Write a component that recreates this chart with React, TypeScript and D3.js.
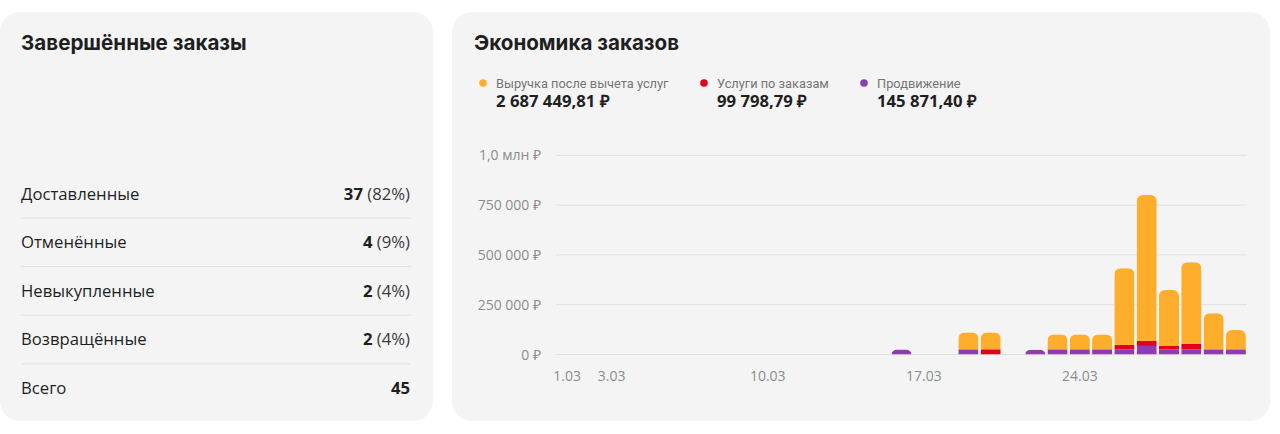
import React from "react";
import * as d3 from "d3";

// ---- Data ----
const statusLabels = ["Доставленные", "Отменённые", "Невыкупленные", "Возвращённые", "Всего"];
const statusCounts = [37, 4, 2, 2, 45];
const statusShares = ["(82%)", "(9%)", "(4%)", "(4%)", ""];

const legendNames = ["Выручка после вычета услуг", "Услуги по заказам", "Продвижение"];
const legendTotals = ["2 687 449,81 ₽", "99 798,79 ₽", "145 871,40 ₽"];

const days = [
  "1.03", "2.03", "3.03", "4.03", "5.03", "6.03", "7.03", "8.03", "9.03", "10.03",
  "11.03", "12.03", "13.03", "14.03", "15.03", "16.03", "17.03", "18.03", "19.03", "20.03",
  "21.03", "22.03", "23.03", "24.03", "25.03", "26.03", "27.03", "28.03", "29.03", "30.03", "31.03",
];
// Выручка после вычета услуг (orange)
const revenue = [
  0, 0, 0, 0, 0, 0, 0, 0, 0, 0,
  0, 0, 0, 0, 0, 0, 0, 0, 85000, 85000,
  0, 0, 75000, 75000, 75000, 385000, 733000, 281000, 410000, 181000, 97000,
];
// Услуги по заказам (red)
const services = [
  0, 0, 0, 0, 0, 0, 0, 0, 0, 0,
  0, 0, 0, 0, 0, 0, 0, 0, 0, 26000,
  0, 0, 0, 0, 0, 22000, 25000, 17000, 27000, 0, 0,
];
// Продвижение (purple)
const promotion = [
  0, 0, 0, 0, 0, 0, 0, 0, 0, 0,
  0, 0, 0, 0, 0, 25000, 0, 0, 26000, 0,
  0, 24000, 26000, 26000, 26000, 26000, 43000, 26000, 26000, 26000, 26000,
];

const yTicks = [0, 250000, 500000, 750000, 1000000];
const yTickLabels = ["0 ₽", "250 000 ₽", "500 000 ₽", "750 000 ₽", "1,0 млн ₽"];
const xTickLabels = ["1.03", "3.03", "10.03", "17.03", "24.03"];

// ---- Styles ----
const COLORS = { revenue: "#FFAE2B", services: "#E2001A", promotion: "#8E3CB3" };
const PANEL_BG = "#F4F4F4";
const TEXT = "#1F1F1F";
const MUTED = "#8C8C8C";
const FONT = "'Open Sans', sans-serif";
const TITLE_FONT = "Inter, sans-serif";

function roundedTop(x0: number, x1: number, yTop: number, yBase: number, r: number) {
  const w = x1 - x0;
  const h = yBase - yTop;
  const rx = Math.min(r, w / 2);
  const ry = Math.min(r, h);
  return `M${x0},${yBase}L${x0},${yTop + ry}A${rx},${ry} 0 0 1 ${x0 + rx},${yTop}L${x1 - rx},${yTop}A${rx},${ry} 0 0 1 ${x1},${yTop + ry}L${x1},${yBase}Z`;
}

export default function App() {
  const W = 1280;
  const H = 434;

  const x = d3.scaleBand<string>().domain(days).range([556, 1247]).paddingInner(0.1).paddingOuter(0.05);
  const y = d3.scaleLinear().domain([0, 1000000]).range([354.5, 155.3]);

  const rows = days.map((d, i) => ({
    day: d,
    promotion: promotion[i],
    services: services[i],
    revenue: revenue[i],
  }));
  const keys = ["promotion", "services", "revenue"];
  const stack = d3.stack<any>().keys(keys)(rows);

  const legendX = [483, 704, 864];
  const rowY = d3.scaleLinear().domain([0, 4]).range([199.5, 394]);

  return (
    <svg width={W} height={H} style={{ position: "absolute", left: 0, top: 0, display: "block" }}>
      <rect x={0} y={0} width={W} height={H} fill="#ffffff" />
      {/* Left panel */}
      <rect x={0} y={12} width={433} height={409} rx={20} fill={PANEL_BG} />
      <text x={21} y={50} fontFamily={TITLE_FONT} fontWeight={700} fontSize={20.6} fill={TEXT}>
        Завершённые заказы
      </text>
      {statusLabels.map((lab, i) => (
        <g key={lab}>
          <text x={21} y={rowY(i)} fontFamily={FONT} fontSize={16.7} fill={TEXT}>
            {lab}
          </text>
          <text x={410} y={rowY(i)} textAnchor="end" fontFamily={FONT} fontSize={16.7} fill={TEXT}>
            <tspan fontWeight={700}>{statusCounts[i]}</tspan>
            {statusShares[i] ? <tspan fill="#3a3a3a">{" " + statusShares[i]}</tspan> : null}
          </text>
          {i < statusLabels.length - 1 && (
            <line x1={21} x2={411} y1={rowY(i) + 18.5} y2={rowY(i) + 18.5} stroke="#E2E2E2" strokeWidth={1} />
          )}
        </g>
      ))}

      {/* Right panel */}
      <rect x={452} y={12} width={818} height={409} rx={20} fill={PANEL_BG} />
      <text x={474} y={50} fontFamily={TITLE_FONT} fontWeight={700} fontSize={20.6} fill={TEXT}>
        Экономика заказов
      </text>
      {legendNames.map((name, i) => (
        <g key={name}>
          <circle cx={legendX[i]} cy={83} r={3.8} fill={[COLORS.revenue, COLORS.services, COLORS.promotion][i]} />
          <text x={legendX[i] + 13} y={87.5} fontFamily="Roboto, sans-serif" fontSize={12.8} fill="#747474">
            {name}
          </text>
          <text x={legendX[i] + 13} y={107} fontFamily={FONT} fontWeight={700} fontSize={16.7} fill={TEXT}>
            {legendTotals[i]}
          </text>
        </g>
      ))}

      {/* grid + y labels */}
      {yTicks.map((t, i) => (
        <g key={t}>
          <line x1={556} x2={1247} y1={y(t)} y2={y(t)} stroke="#E0E0E0" strokeWidth={1} />
          <text x={541} y={y(t) + 5} textAnchor="end" fontFamily={FONT} fontSize={14} fill={MUTED}>
            {yTickLabels[i]}
          </text>
        </g>
      ))}
      {xTickLabels.map((lab) => (
        <text key={lab} x={(x(lab) ?? 0) + x.bandwidth() / 2} y={380.5} textAnchor="middle" fontFamily={FONT} fontSize={14} fill={MUTED}>
          {lab}
        </text>
      ))}

      {/* bars */}
      <defs>
        {rows.map((r, i) => {
          const total = r.promotion + r.services + r.revenue;
          if (!total) return null;
          const x0 = x(r.day) ?? 0;
          return (
            <clipPath id={`bar-${i}`} key={i}>
              <path d={roundedTop(x0, x0 + x.bandwidth(), y(total), y(0), 6)} />
            </clipPath>
          );
        })}
      </defs>
      {rows.map((r, i) => {
        const total = r.promotion + r.services + r.revenue;
        if (!total) return null;
        const x0 = x(r.day) ?? 0;
        return (
          <g key={r.day} clipPath={`url(#bar-${i})`}>
            {stack.map((s) => {
              const [a, b] = s[i];
              if (b - a <= 0) return null;
              return (
                <rect
                  key={s.key}
                  x={x0}
                  width={x.bandwidth()}
                  y={y(b)}
                  height={y(a) - y(b)}
                  fill={(COLORS as any)[s.key]}
                />
              );
            })}
          </g>
        );
      })}
    </svg>
  );
}
